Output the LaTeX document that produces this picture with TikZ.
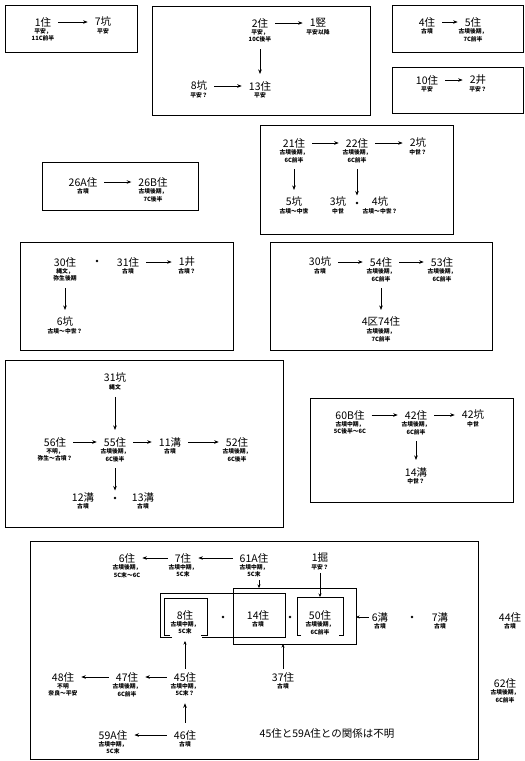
\documentclass[tikz,border=0pt]{standalone}
\usepackage{fontspec}
\setmainfont{Noto Sans CJK JP}
\usetikzlibrary{positioning, arrows.meta}

\begin{document}
\begin{tikzpicture}[x=1pt, y=-1pt,
  every node/.style={inner sep=1pt},
  feat/.style={font=\fontsize{10.5}{11}\selectfont},
  era/.style={font=\fontsize{5.8}{7.3}\selectfont\bfseries, align=center, inner sep=0.5pt},
  arrow/.style={-{Stealth[length=4.5pt, width=3.5pt]}, line width=0.6pt,
                shorten >=6pt, shorten <=6pt},
  tip/.style={-{Stealth[length=3.5pt, width=3pt]}, line width=0.6pt, shorten <=2pt},
  frame/.style={draw, line width=0.9pt},
  sep/.style={circle, fill, inner sep=0pt, minimum size=2.6pt}]
\fill[white] (0,0) rectangle (525,761);
\useasboundingbox (0,0) rectangle (525,761);

% frames
\draw[frame] (5,5) rectangle (137,52);
\draw[frame] (152,6) rectangle (370,115);
\draw[frame] (392,5) rectangle (523,52);
\draw[frame] (392,67) rectangle (523,113);
\draw[frame] (260,125) rectangle (453,234);
\draw[frame] (42,162) rectangle (198,210);
\draw[frame] (20,242) rectangle (233,350);
\draw[frame] (270,242) rectangle (492,350);
\draw[frame] (5,360) rectangle (283,527);
\draw[frame] (310,398) rectangle (513,502);
\draw[frame] (30,541) rectangle (478,759);

% 1住
\node[feat] (h1) at (43,22) {1住};
\node[era, below=0pt of h1] (h1s) {平安，\\11C前半};
\node[feat] (k7) at (103,22) {7坑};
\node[era, below=0pt of k7] (k7s) {平安};
\draw[arrow] (h1) -- (k7);

% 2住
\node[feat] (h2) at (260,23) {2住};
\node[era, below=0pt of h2] (h2s) {平安，\\10C後半};
\node[feat] (t1) at (318,23) {1竪};
\node[era, below=0pt of t1] (t1s) {平安以降};
\node[feat] (k8) at (199,86) {8坑};
\node[era, below=0pt of k8] (k8s) {平安？};
\node[feat] (h13) at (260,86) {13住};
\node[era, below=0pt of h13] (h13s) {平安};
\draw[arrow] (h2) -- (t1);
\draw[arrow] (h2s) -- (h13);
\draw[arrow] (k8) -- (h13);

% 4住, 10住
\node[feat] (h4) at (427,22) {4住};
\node[era, below=0pt of h4] (h4s) {古墳};
\node[feat] (h5) at (473,22) {5住};
\node[era, below=0pt of h5] (h5s) {古墳後期，\\7C前半};
\draw[arrow] (h4) -- (h5);
\node[feat] (h10) at (427,80) {10住};
\node[era, below=0pt of h10] (h10s) {平安};
\node[feat] (w2) at (478,80) {2井};
\node[era, below=0pt of w2] (w2s) {平安？};
\draw[arrow] (h10) -- (w2);

% 21住
\node[feat] (h21) at (294,143) {21住};
\node[era, below=0pt of h21] (h21s) {古墳後期，\\6C前半};
\node[feat] (h22) at (357,143) {22住};
\node[era, below=0pt of h22] (h22s) {古墳後期，\\6C前半};
\node[feat] (k2) at (418,143) {2坑};
\node[era, below=0pt of k2] (k2s) {中世？};
\node[feat] (k5) at (294,202) {5坑};
\node[era, below=0pt of k5] (k5s) {古墳～中世};
\node[feat] (k3) at (338,202) {3坑};
\node[era, below=0pt of k3] (k3s) {中世};
\node[sep] (d34) at (357,203) {};
\node[feat] (k4) at (380,202) {4坑};
\node[era, below=0pt of k4] (k4s) {古墳～中世？};
\draw[arrow] (h21) -- (h22);
\draw[arrow] (h22) -- (k2);
\draw[arrow] (h21s) -- (k5);
\draw[arrow] (h22s) -- (d34);

% 26A住
\node[feat] (h26a) at (83,182) {26A住};
\node[era, below=0pt of h26a] (h26as) {古墳};
\node[feat] (h26b) at (153,182) {26B住};
\node[era, below=0pt of h26b] (h26bs) {古墳後期，\\7C後半};
\draw[arrow] (h26a) -- (h26b);

% 30住
\node[feat] (h30) at (65,262) {30住};
\node[era, below=0pt of h30] (h30s) {縄文，\\弥生後期};
\node[sep] (d3031) at (97,261) {};
\node[feat] (h31) at (128,262) {31住};
\node[era, below=0pt of h31] (h31s) {古墳};
\node[feat] (w1) at (187,262) {1井};
\node[era, below=0pt of w1] (w1s) {古墳？};
\node[feat] (k6) at (65,322) {6坑};
\node[era, below=0pt of k6] (k6s) {古墳～中世？};
\draw[arrow] (h31) -- (w1);
\draw[arrow] (h30s) -- (k6);

% 30坑
\node[feat] (k30) at (320,262) {30坑};
\node[era, below=0pt of k30] (k30s) {古墳};
\node[feat] (h54) at (381,262) {54住};
\node[era, below=0pt of h54] (h54s) {古墳後期，\\6C前半};
\node[feat] (h53) at (442,262) {53住};
\node[era, below=0pt of h53] (h53s) {古墳後期，\\6C前半};
\node[feat] (h74) at (381,322) {4区74住};
\node[era, below=0pt of h74] (h74s) {古墳後期，\\7C前半};
\draw[arrow] (k30) -- (h54);
\draw[arrow] (h54) -- (h53);
\draw[arrow] (h54s) -- (h74);

% 31坑
\node[feat] (k31) at (115,378) {31坑};
\node[era, below=0pt of k31] (k31s) {縄文};
\node[feat] (h56) at (55,442) {56住};
\node[era, below=0pt of h56] (h56s) {不明，\\弥生～古墳？};
\node[feat] (h55) at (115,442) {55住};
\node[era, below=0pt of h55] (h55s) {古墳後期，\\6C後半};
\node[feat] (m11) at (170,442) {11溝};
\node[era, below=0pt of m11] (m11s) {古墳};
\node[feat] (h52) at (237,442) {52住};
\node[era, below=0pt of h52] (h52s) {古墳後期，\\6C後半};
\node[feat] (m12) at (83,497) {12溝};
\node[era, below=0pt of m12] (m12s) {古墳};
\node[sep] (d1213) at (115,498) {};
\node[feat] (m13) at (143,497) {13溝};
\node[era, below=0pt of m13] (m13s) {古墳};
\draw[arrow] (k31s) -- (h55);
\draw[arrow] (h56) -- (h55);
\draw[arrow] (h55) -- (m11);
\draw[arrow] (m11) -- (h52);
\draw[arrow] (h55s) -- (d1213);

% 60B住
\node[feat] (h60b) at (350,415) {60B住};
\node[era, below=0pt of h60b] (h60bs) {古墳中期，\\5C後半～6C};
\node[feat] (h42) at (416,415) {42住};
\node[era, below=0pt of h42] (h42s) {古墳後期，\\6C前半};
\node[feat] (k42) at (473,415) {42坑};
\node[era, below=0pt of k42] (k42s) {中世};
\node[feat] (m14) at (416,472) {14溝};
\node[era, below=0pt of m14] (m14s) {中世？};
\draw[arrow] (h60b) -- (h42);
\draw[arrow] (h42) -- (k42);
\draw[arrow] (h42s) -- (m14);

% 8住・14住・50住
\draw[frame] (172,637) -| (160,593) -| (285,637) -- (202,637);
\draw[frame] (233,588) rectangle (356,644);
\draw[frame] (170,635) -| (164,598) -| (207,635) -- (201,635);
\draw[frame] (301,635) -| (297,597) -| (343,635) -- (339,635);
\coordinate (in61) at (259,588);
\coordinate (in50) at (320,597);
\coordinate (inBe) at (356,617);
\coordinate (inBs) at (283,644);
\coordinate (in8) at (185,641);

\node[feat] (h6) at (127,558) {6住};
\node[era, below=0pt of h6] (h6s) {古墳後期，\\5C末～6C};
\node[feat] (h7) at (183,558) {7住};
\node[era, below=0pt of h7] (h7s) {古墳中期，\\5C末};
\node[feat] (h61a) at (254,558) {61A住};
\node[era, below=0pt of h61a] (h61as) {古墳中期，\\5C末};
\node[feat] (p1) at (320,558) {1掘};
\node[era, below=0pt of p1] (p1s) {平安？};
\node[feat] (h8) at (185,615) {8住};
\node[era, below=0pt of h8] (h8s) {古墳中期，\\5C末};
\node[sep] (d814) at (223,617) {};
\node[feat] (h14) at (258,615) {14住};
\node[era, below=0pt of h14] (h14s) {古墳};
\node[sep] (d1450) at (290,617) {};
\node[feat] (h50) at (320,615) {50住};
\node[era, below=0pt of h50] (h50s) {古墳後期，\\6C前半};
\node[feat] (m6) at (380,617) {6溝};
\node[era, below=0pt of m6] (m6s) {古墳};
\node[sep] (d67) at (412,617) {};
\node[feat] (m7) at (440,617) {7溝};
\node[era, below=0pt of m7] (m7s) {古墳};
\node[feat] (h44) at (510,617) {44住};
\node[era, below=0pt of h44] (h44s) {古墳};
\node[feat] (h48) at (63,677) {48住};
\node[era, below=0pt of h48] (h48s) {不明\\奈良～平安};
\node[feat] (h47) at (127,677) {47住};
\node[era, below=0pt of h47] (h47s) {古墳後期，\\6C前半};
\node[feat] (h45) at (185,677) {45住};
\node[era, below=0pt of h45] (h45s) {古墳中期，\\5C末？};
\node[feat] (h37) at (283,677) {37住};
\node[era, below=0pt of h37] (h37s) {古墳};
\node[feat] (h62) at (505,683) {62住};
\node[era, below=0pt of h62] (h62s) {古墳後期，\\6C前半};
\node[feat] (h59a) at (113,735) {59A住};
\node[era, below=0pt of h59a] (h59as) {古墳中期，\\5C末};
\node[feat] (h46) at (185,735) {46住};
\node[era, below=0pt of h46] (h46s) {古墳};
\node[feat] (note) at (327,734) {45住と59A住との関係は不明};

\draw[arrow] (h61a) -- (h7);
\draw[arrow] (h7) -- (h6);
\draw[tip] (h61as.south -| in61) -- (in61);
\draw[tip] (p1s) -- (in50);
\draw[tip] (m6) -- (inBe);
\draw[tip] (h37) -- (inBs);
\draw[tip] (h45) -- (in8);
\draw[arrow] (h46) -- (h45s);
\draw[arrow] (h45) -- (h47);
\draw[arrow] (h47) -- (h48);
\draw[arrow] (h46) -- (h59a);
\end{tikzpicture}
\end{document}
